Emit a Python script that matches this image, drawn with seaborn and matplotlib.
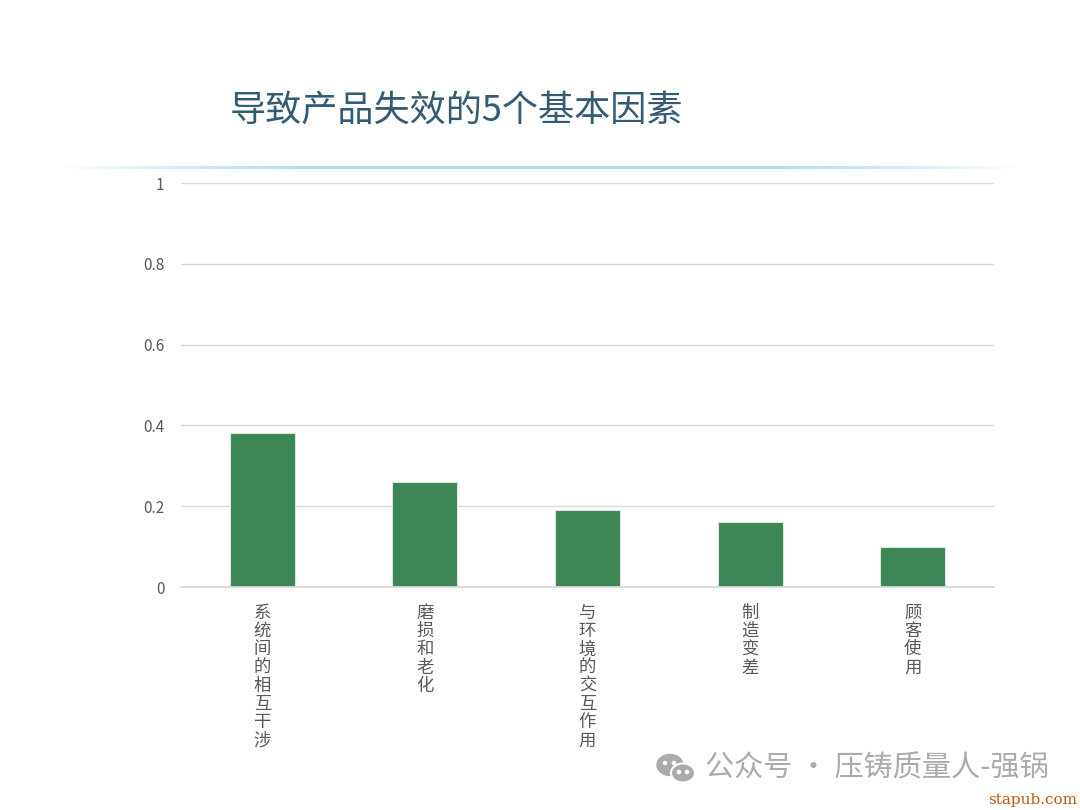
import numpy as np
import pandas as pd
import matplotlib
matplotlib.use("Agg")
import matplotlib.pyplot as plt
from matplotlib.patches import Ellipse
import seaborn as sns

# 数据
factors = ["系统间的相互干涉", "磨损和老化", "与环境的交互作用", "制造变差", "顾客使用"]
shares = [0.38, 0.26, 0.19, 0.16, 0.10]
y_ticks = [0, 0.2, 0.4, 0.6, 0.8, 1]
y_tick_labels = ["0", "0.2", "0.4", "0.6", "0.8", "1"]

sns.set_theme(style="white")
plt.rcParams["font.family"] = ["Noto Sans CJK SC", "DejaVu Sans"]

df = pd.DataFrame({"factor": factors, "share": shares})

fig = plt.figure(figsize=(10.8, 8.1), dpi=100)
ax = fig.add_axes([181 / 1080, 1 - 587 / 810, (994 - 181) / 1080, (587 - 183) / 810])

sns.barplot(data=df, x="factor", y="share", color="#3D8655", saturation=1,
            width=0.4, edgecolor="#D9E6DC", linewidth=0.8, ax=ax)

ax.set_ylim(0, 1)
ax.set_xlim(-0.5, 4.5)
ax.set_yticks(y_ticks)
ax.set_yticklabels(y_tick_labels, color="#595959", fontsize=11)
ax.yaxis.grid(True, color="#D9D9D9", linewidth=1)
ax.set_axisbelow(True)
for s in ["top", "right", "left"]:
    ax.spines[s].set_visible(False)
ax.spines["bottom"].set_color("#D9D9D9")
ax.tick_params(axis="y", length=0, pad=12)
ax.tick_params(axis="x", length=0)
ax.set_xlabel("")
ax.set_ylabel("")

# 竖排类别标签
ax.set_xticks(range(len(factors)))
ax.set_xticklabels(["\n".join(f) for f in factors], color="#595959",
                   fontsize=12.5, linespacing=1.02, va="top")
ax.tick_params(axis="x", pad=12)

# 标题
fig.text(230 / 1080, 1 - 111 / 810, "导致产品失效的5个基本因素", fontsize=26,
         color="#335B74", va="center", ha="left")

# 标题下方的渐变分隔线
line_ax = fig.add_axes([55 / 1080, 1 - 169 / 810, (1025 - 55) / 1080, 3 / 810])
grad = np.linspace(0, 1, 400)
alpha = np.clip(np.sin(grad * np.pi) * 1.4, 0, 1)
rgba = np.zeros((1, 400, 4))
rgba[..., 0] = 0.70
rgba[..., 1] = 0.87
rgba[..., 2] = 0.94
rgba[..., 3] = alpha
line_ax.imshow(rgba, aspect="auto", extent=[0, 1, 0, 1])
line_ax.axis("off")

# 水印
fig.text(705 / 1080, 1 - 768 / 810, "公众号 · 压铸质量人-强锅", fontsize=21,
         color="#ABABAB", va="center", ha="left")
icon_ax = fig.add_axes([655 / 1080, 1 - 785 / 810, 42 / 1080, 32 / 810])
icon_ax.set_xlim(0, 42)
icon_ax.set_ylim(0, 32)
icon_ax.add_patch(Ellipse((15, 20), 26, 21, color="#ABABAB"))
icon_ax.add_patch(Ellipse((28, 12), 24, 19, color="#ABABAB", ec="white", lw=1.5))
for cx, cy in [(10, 22), (19, 22), (24, 13), (32, 13)]:
    icon_ax.add_patch(Ellipse((cx, cy), 3.2, 3.2, color="white"))
icon_ax.axis("off")

fig.text(1077 / 1080, 1 - 800 / 810, "stapub.com", fontsize=11,
         color="#C0580E", va="center", ha="right", family="DejaVu Serif")

fig.savefig("out.png", dpi=100, facecolor="white")
